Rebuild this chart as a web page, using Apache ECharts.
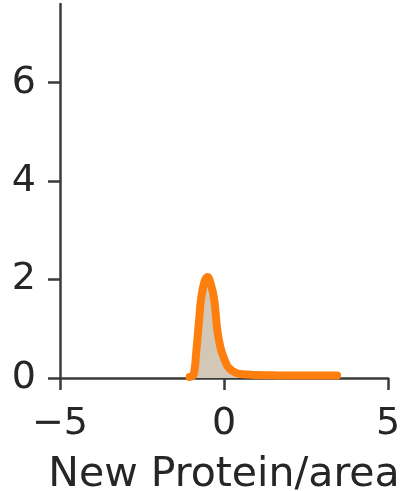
<!DOCTYPE html>
<html>
<head>
<meta charset="utf-8">
<script src="https://cdn.jsdelivr.net/npm/echarts@6/dist/echarts.min.js"></script>
<style>
  html, body { margin: 0; padding: 0; background: #fff; }
  #chart { width: 416px; height: 491px; }
</style>
</head>
<body>
<div id="chart"></div>
<script>
// Density estimate of new protein per area
const densityX = [-1.05, -0.93, -0.85, -0.75, -0.7, -0.6, -0.5, -0.4, -0.3, -0.2, -0.1, 0.0, 0.1, 0.2, 0.35, 0.5, 0.75, 1.0, 1.5, 2.0, 2.5, 3.0, 3.45];
const densityY = [0.02, 0.06, 0.5, 1.25, 1.6, 1.95, 2.05, 1.9, 1.6, 0.95, 0.6, 0.4, 0.25, 0.17, 0.11, 0.08, 0.07, 0.06, 0.055, 0.05, 0.05, 0.05, 0.05];

const xTicks = [-5, 0, 5];
const yTicks = [0, 2, 4, 6];
const xName = 'New Protein/area';

const textColor = '#262626';
const axisColor = '#3a3a3a';
const fontFamily = 'DejaVu Sans';

const points = densityX.map((x, i) => [x, densityY[i]]);
const fmt = v => (v < 0 ? '\u2212' + Math.abs(v) : String(v));

const chart = echarts.init(document.getElementById('chart'), null, { renderer: 'canvas' });
chart.setOption({
  animation: false,
  backgroundColor: '#fff',
  grid: { left: 60, right: 28, top: 4, bottom: 113, containLabel: false, outerBoundsMode: 'none' },
  xAxis: {
    type: 'value',
    min: -5,
    max: 5,
    interval: 5,
    name: xName,
    nameLocation: 'middle',
    nameGap: 77,
    nameTextStyle: { color: textColor, fontSize: 41, fontFamily },
    splitLine: { show: false },
    axisLine: { show: true, onZero: false, lineStyle: { color: axisColor, width: 2.5 } },
    axisTick: { show: true, length: 12, customValues: xTicks, lineStyle: { color: axisColor, width: 2.5 } },
    axisLabel: { customValues: xTicks, formatter: fmt, color: textColor, fontSize: 38, fontFamily, margin: 27 }
  },
  yAxis: {
    type: 'value',
    min: 0,
    max: 7.6,
    splitLine: { show: false },
    axisLine: { show: true, onZero: false, lineStyle: { color: axisColor, width: 2.5 } },
    axisTick: { show: true, length: 12, customValues: yTicks, lineStyle: { color: axisColor, width: 2.5 } },
    axisLabel: { customValues: yTicks, formatter: fmt, color: textColor, fontSize: 38, fontFamily, margin: 24 }
  },
  series: [{
    type: 'line',
    data: points,
    smooth: 0.4,
    symbol: 'none',
    clip: false,
    lineStyle: { color: '#ff7f0e', width: 8, cap: 'round', join: 'round' },
    areaStyle: { color: '#d3c8b8', opacity: 1 },
    z: 1
  }]
});
</script>
</body>
</html>
